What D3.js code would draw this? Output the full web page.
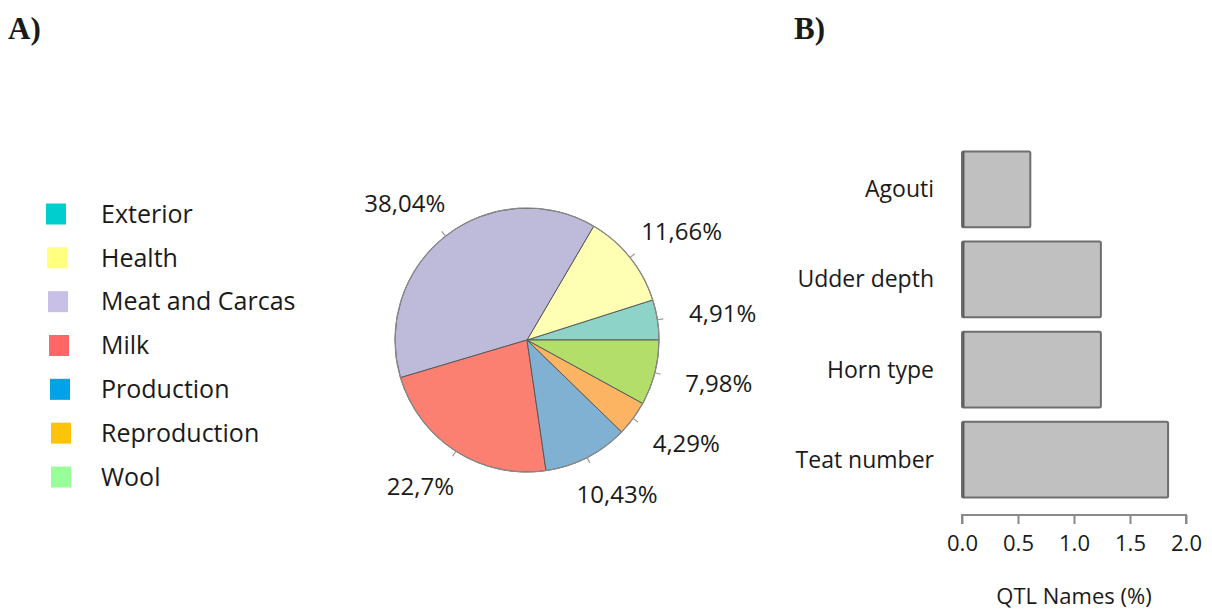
<!DOCTYPE html>
<html>
<head>
<meta charset="utf-8">
<script src="https://cdn.jsdelivr.net/npm/d3@7"></script>
<style>
  body { margin: 0; background: #fff; }
  svg text { font-family: "Open Sans", "DejaVu Sans", sans-serif; fill: #1a1a1a; }
</style>
</head>
<body>
<div id="chart"></div>
<script>
const w = 1212;
const h = 612;

// panel A: QTL categories (pie)
const categories = ["Exterior", "Health", "Meat and Carcas", "Milk", "Production", "Reproduction", "Wool"];
const shares = [4.91, 11.66, 38.04, 22.7, 10.43, 4.29, 7.98];
const shareLabels = ["4,91%", "11,66%", "38,04%", "22,7%", "10,43%", "4,29%", "7,98%"];
const sliceColors = ["#8dd3c7", "#ffffb3", "#bebada", "#fb8072", "#80b1d3", "#fdb462", "#b3de69"];
const legendColors = ["#00cdcd", "#ffff80", "#c8c0e6", "#ff6666", "#00a2e8", "#ffc40a", "#99ff99"];

// panel B: QTL names (bars)
const qtlNames = ["Agouti", "Udder depth", "Horn type", "Teat number"];
const qtlValues = [0.61, 1.24, 1.24, 1.84];
const xTicks = [0, 0.5, 1, 1.5, 2];

const svg = d3.select("#chart").append("svg")
  .attr("width", w)
  .attr("height", h)
  .attr("viewBox", "0 0 " + w + " " + h);

// panel letters
svg.append("text").attr("x", 8).attr("y", 39).text("A)")
  .style("font-family", "'Liberation Serif', 'DejaVu Serif', serif")
  .style("font-weight", "bold").style("font-size", "31px");
svg.append("text").attr("x", 794).attr("y", 39).text("B)")
  .style("font-family", "'Liberation Serif', 'DejaVu Serif', serif")
  .style("font-weight", "bold").style("font-size", "31px");

// legend
const legendY = d3.scalePoint().domain(categories).range([214, 477]);
const legend = svg.append("g").selectAll("g")
  .data(categories)
  .enter()
  .append("g")
  .attr("transform", (d) => `translate(0, ${legendY(d)})`);

legend.append("rect")
  .attr("x", (d, i) => 46 + Math.min(i, 5) * 1)
  .attr("y", -10.5)
  .attr("width", 20)
  .attr("height", 21)
  .style("fill", (d, i) => legendColors[i]);

legend.append("text")
  .attr("x", 101)
  .attr("dy", "0.35em")
  .style("font-size", "25px")
  .text((d) => d);

// pie, counter-clockwise from 3 o'clock like the original
const r = 132;
const cx = 527;
const cy = 340;

const pie = d3.pie().sort(null).startAngle(Math.PI / 2).endAngle(Math.PI / 2 - 2 * Math.PI);
const arcs = pie(shares);
const arc = d3.arc().innerRadius(0).outerRadius(r);

const pieG = svg.append("g").attr("transform", `translate(${cx}, ${cy})`);

pieG.selectAll("path.slice")
  .data(arcs)
  .enter()
  .append("path")
  .attr("class", "slice")
  .attr("d", arc)
  .style("fill", (d, i) => sliceColors[i])
  .style("stroke", "#5a5a5a")
  .style("stroke-width", 1);

pieG.append("circle")
  .attr("r", r)
  .style("fill", "none")
  .style("stroke", "#8a8a8a")
  .style("stroke-width", 1.2);

const midAngle = (d) => (d.startAngle + d.endAngle) / 2;

// little ticks on the rim at each slice middle
pieG.selectAll("line.rim")
  .data(arcs)
  .enter()
  .append("line")
  .attr("class", "rim")
  .attr("x1", (d) => Math.sin(midAngle(d)) * r)
  .attr("y1", (d) => -Math.cos(midAngle(d)) * r)
  .attr("x2", (d) => Math.sin(midAngle(d)) * (r + 6))
  .attr("y2", (d) => -Math.cos(midAngle(d)) * (r + 6))
  .style("stroke", "#999")
  .style("stroke-width", 1.2);

pieG.selectAll("text.pct")
  .data(arcs)
  .enter()
  .append("text")
  .attr("class", "pct")
  .attr("x", (d) => Math.sin(midAngle(d)) * 198)
  .attr("y", (d) => -Math.cos(midAngle(d)) * 174)
  .attr("text-anchor", "middle")
  .attr("dy", "0.35em")
  .style("font-size", "24px")
  .text((d, i) => shareLabels[i]);

// bar chart
const x = d3.scaleLinear().domain([0, 2]).range([962, 1186]);
const y = d3.scaleBand().domain(qtlNames).range([146, 503]).paddingInner(0.16).paddingOuter(0.06);

svg.append("g").selectAll("rect")
  .data(qtlNames)
  .enter()
  .append("rect")
  .attr("x", x(0))
  .attr("y", (d) => y(d))
  .attr("width", (d, i) => x(qtlValues[i]) - x(0))
  .attr("height", y.bandwidth())
  .attr("rx", 1.5)
  .style("fill", "#c0c0c0")
  .style("stroke", "#6e6e6e")
  .style("stroke-width", 2);

// darker left edge of bars
svg.append("g").selectAll("line")
  .data(qtlNames)
  .enter()
  .append("line")
  .attr("x1", x(0) + 1.5)
  .attr("x2", x(0) + 1.5)
  .attr("y1", (d) => y(d))
  .attr("y2", (d) => y(d) + y.bandwidth())
  .style("stroke", "#5e5e5e")
  .style("stroke-width", 2);

svg.append("g").selectAll("text")
  .data(qtlNames)
  .enter()
  .append("text")
  .attr("x", 934)
  .attr("y", (d) => y(d) + y.bandwidth() / 2)
  .attr("dy", "0.35em")
  .attr("text-anchor", "end")
  .style("font-size", "23px")
  .text((d) => d);

const xAxis = d3.axisBottom(x)
  .tickValues(xTicks)
  .tickSize(9)
  .tickPadding(11)
  .tickFormat(d3.format(".1f"));

const axisG = svg.append("g")
  .attr("transform", "translate(0, 515)")
  .call(xAxis);

axisG.select(".domain").attr("d", `M${x(0)},9V0H${x(2)}V9`).style("stroke", "#8a8a8a").style("stroke-width", 2);
axisG.selectAll(".tick line").style("stroke", "#8a8a8a").style("stroke-width", 2);
axisG.selectAll(".tick text")
  .style("font-family", "'Open Sans', sans-serif")
  .style("font-size", "22px")
  .style("fill", "#1a1a1a");

svg.append("text")
  .attr("x", x(1))
  .attr("y", 596)
  .attr("dy", "0.35em")
  .attr("text-anchor", "middle")
  .style("font-size", "22px")
  .text("QTL Names (%)");
</script>
</body>
</html>
